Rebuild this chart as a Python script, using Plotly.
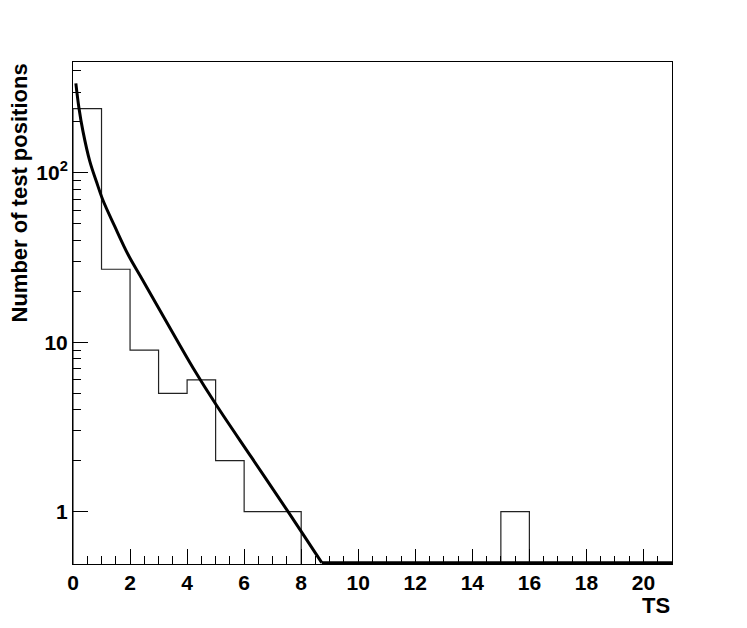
import numpy as np
import plotly.graph_objects as go

# Histogram: TS bins of width 1 from 0 to 21
bin_edges = list(range(0, 22))
counts = [240, 27, 9, 5, 6, 2, 1, 1, 0, 0, 0, 0, 0, 0, 0, 1, 0, 0, 0, 0, 0]

# Fitted curve (it then runs along the bottom of the frame)
curve_x = [0.10, 0.21, 0.35, 0.59, 0.82, 1.05, 1.46, 1.93, 2.40, 3.28, 4.21,
           5.03, 6.26, 7.54, 8.01, 8.72]
curve_y = [338, 241, 176, 117, 89, 69, 48.5, 33, 24.0, 13.2, 7.06,
           4.25, 2.09, 1.0, 0.76, 0.5]

y_tick_vals = [1, 10, 100]
y_tick_text = ["1", "10", "10<sup>2</sup>"]
x_tick_vals = list(range(0, 21, 2))

x_min, x_max = 0, 21
y_min, y_max = 0.5, 452.0
hidden = 1e-3  # empty bins fall below the frame in log scale

# step outline of histogram
hx = [bin_edges[0]]
hy = [hidden]
for i, c in enumerate(counts):
    v = c if c > 0 else hidden
    hx += [bin_edges[i], bin_edges[i + 1]]
    hy += [v, v]
hx.append(bin_edges[-1])
hy.append(hidden)

font_family = "Liberation Sans, Arial, Helvetica, sans-serif"

fig = go.Figure()
fig.add_trace(go.Scatter(x=hx, y=hy, mode="lines",
                         line=dict(color="#222222", width=1.2),
                         showlegend=False, hoverinfo="skip"))
fig.add_trace(go.Scatter(x=curve_x, y=curve_y, mode="lines",
                         line=dict(color="black", width=3, shape="spline", smoothing=1.0),
                         showlegend=False))
# function clipped to the frame floor beyond its last visible point
fig.add_trace(go.Scatter(x=[curve_x[-1], x_max], y=[y_min, y_min], mode="lines",
                         line=dict(color="black", width=3),
                         showlegend=False, hoverinfo="skip"))

minor_y = [v * d for d in (1, 10, 100) for v in range(2, 10) if v * d <= y_max]
minor_x = [v * 0.5 for v in range(0, 43) if v % 4 != 0]

fig.update_layout(
    width=739, height=620,
    margin=dict(l=65, r=75, t=54, b=64),
    paper_bgcolor="white", plot_bgcolor="white",
    font=dict(family=font_family, size=21, color="black", weight="bold"),
    xaxis=dict(range=[x_min, x_max], showgrid=False, zeroline=False,
               showline=True, linecolor="black", linewidth=1, mirror=True,
               ticks="inside", ticklen=15, tickwidth=1, tickcolor="black",
               tickmode="array", tickvals=x_tick_vals,
               tickfont=dict(size=21, family=font_family, weight="bold"),
               minor=dict(ticks="inside", ticklen=8, tickwidth=1, tickcolor="black",
                          tickmode="array", tickvals=minor_x)),
    yaxis=dict(type="log", range=[np.log10(y_min) - 0.008, np.log10(y_max)],
               showgrid=False, zeroline=False,
               showline=True, linecolor="black", linewidth=1, mirror=True,
               ticks="inside", ticklen=15, tickwidth=1, tickcolor="black",
               tickmode="array", tickvals=y_tick_vals, ticktext=y_tick_text,
               tickfont=dict(size=21, family=font_family, weight="bold"),
               minor=dict(ticks="inside", ticklen=8, tickwidth=1, tickcolor="black",
                          tickmode="array", tickvals=minor_y)),
    annotations=[
        dict(text="Number of test positions", textangle=-90,
             xref="paper", yref="paper", x=0, y=1, xanchor="center", yanchor="top",
             xshift=-54, showarrow=False,
             font=dict(size=22, family=font_family, weight="bold")),
        dict(text="TS", xref="paper", yref="paper", x=1, y=0,
             xanchor="right", yanchor="middle", yshift=-41, showarrow=False,
             font=dict(size=22, family=font_family, weight="bold")),
    ],
)

fig.write_html("out.html")
